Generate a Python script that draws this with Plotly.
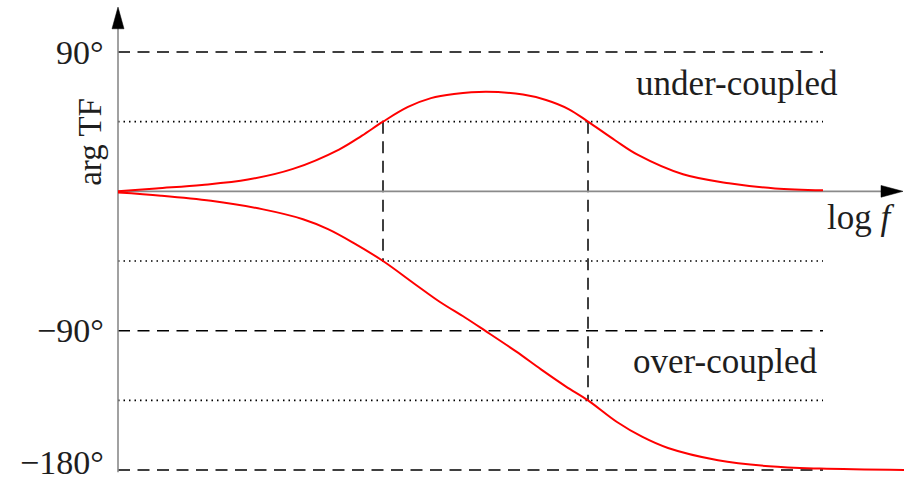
import plotly.graph_objects as go

# Phase of the transfer function against log frequency (arbitrary units)
log_f_under = [0.00, 0.38, 0.84, 1.30, 1.75, 2.21, 2.44, 2.65, 2.90, 3.13, 3.36, 3.68,
               4.05, 4.28, 4.51, 4.70, 4.97, 5.20, 5.65, 6.11, 6.57, 7.05]
phase_under = [0.0, 1.9, 4.1, 7.6, 14.5, 27.0, 36.0, 45.0, 54.5, 60.2, 62.8, 64.3,
               62.5, 59.0, 53.0, 45.0, 33.0, 23.5, 11.0, 5.2, 1.9, 0.7]

log_f_over = [0.00, 0.43, 0.93, 1.44, 1.85, 2.10, 2.35, 2.65, 2.96, 3.22, 3.47, 3.67,
              3.98, 4.23, 4.48, 4.70, 4.99, 5.24, 5.50, 6.00, 6.51, 7.02, 7.86]
phase_over = [-0.8, -2.8, -6.1, -11.5, -18.0, -24.4, -33.1, -45.0, -59.5, -71.5, -81.5, -90.0,
              -103.4, -115.0, -126.1, -135.0, -149.0, -158.5, -165.8, -173.7, -177.6, -179.1, -180.0]

# Reference levels (degrees)
dashed_levels = [90, -90, -180]
dotted_levels = [45, -45, -135]
tick_labels = ["90°", "−90°", "−180°"]

# Half-power frequencies with their vertical extents
marker_f = [2.65, 4.70]
marker_bottom = [-45, -135]

x_end = 7.05      # right end of the guide lines
x_arrow = 7.85    # tip of the frequency axis
y_arrow = 119.0   # tip of the phase axis

serif = "Liberation Serif, Times New Roman, serif"
axis_grey = "#8a8a8a"
text_color = "#1e1e1e"

fig = go.Figure()

for xs, ys in ((log_f_under, phase_under), (log_f_over, phase_over)):
    fig.add_trace(go.Scatter(x=xs, y=ys, mode="lines",
                             line=dict(color="#ff0000", width=2, shape="spline", smoothing=1.0),
                             hoverinfo="skip", showlegend=False))

shapes = []
for lvl in dashed_levels:
    shapes.append(dict(type="line", x0=0, x1=x_end, y0=lvl, y1=lvl, layer="below",
                       line=dict(color="black", width=1.5, dash="12px,7.5px")))
for lvl in dotted_levels:
    shapes.append(dict(type="line", x0=0, x1=x_end, y0=lvl, y1=lvl, layer="below",
                       line=dict(color="black", width=1.6, dash="1.5px,4px")))
for xf, yb in zip(marker_f, marker_bottom):
    shapes.append(dict(type="line", x0=xf, x1=xf, y0=45, y1=yb, layer="below",
                       line=dict(color="black", width=1.5, dash="12px,7.5px")))

# Axes with arrowheads
shapes.append(dict(type="line", x0=0, x1=0, y0=-181.5, y1=y_arrow - 12, layer="below",
                   line=dict(color=axis_grey, width=1.6)))
shapes.append(dict(type="line", x0=0, x1=x_arrow - 0.15, y0=0, y1=0, layer="below",
                   line=dict(color=axis_grey, width=1.6)))
shapes.append(dict(type="path",
                   path=f"M 0 {y_arrow} L -0.06 {y_arrow - 14} L 0.06 {y_arrow - 14} Z",
                   fillcolor="black", line=dict(color="black", width=0.5)))
shapes.append(dict(type="path",
                   path=f"M {x_arrow} 0 L {x_arrow - 0.22} 3.8 L {x_arrow - 0.22} -3.8 Z",
                   fillcolor="black", line=dict(color="black", width=0.5)))

annotations = []
for lvl, txt in zip(dashed_levels, tick_labels):
    annotations.append(dict(x=-0.12, y=lvl, text=txt, showarrow=False, xanchor="right",
                            yanchor="middle", yshift=8 if lvl == -180 else 0,
                            font=dict(family=serif, size=34, color=text_color)))
annotations.append(dict(x=-0.28, y=32, text="arg TF", showarrow=False, textangle=-90,
                        xanchor="center", yanchor="middle",
                        font=dict(family=serif, size=33, color=text_color)))
annotations.append(dict(x=6.19, y=69.5, text="under-coupled", showarrow=False,
                        xanchor="center", yanchor="middle",
                        font=dict(family=serif, size=35, color=text_color)))
annotations.append(dict(x=6.07, y=-110.0, text="over-coupled", showarrow=False,
                        xanchor="center", yanchor="middle",
                        font=dict(family=serif, size=35, color=text_color)))
annotations.append(dict(x=7.42, y=-17.0, text="log <i>f</i>", showarrow=False,
                        xanchor="center", yanchor="middle",
                        font=dict(family=serif, size=35, color=text_color)))

fig.update_layout(
    width=909, height=483,
    margin=dict(l=0, r=0, t=0, b=0),
    paper_bgcolor="white", plot_bgcolor="white",
    xaxis=dict(range=[-1.18, 7.91], visible=False, fixedrange=True),
    yaxis=dict(range=[-188.4, 123.59], visible=False, fixedrange=True),
    shapes=shapes, annotations=annotations,
)

fig.write_html("out.html")
